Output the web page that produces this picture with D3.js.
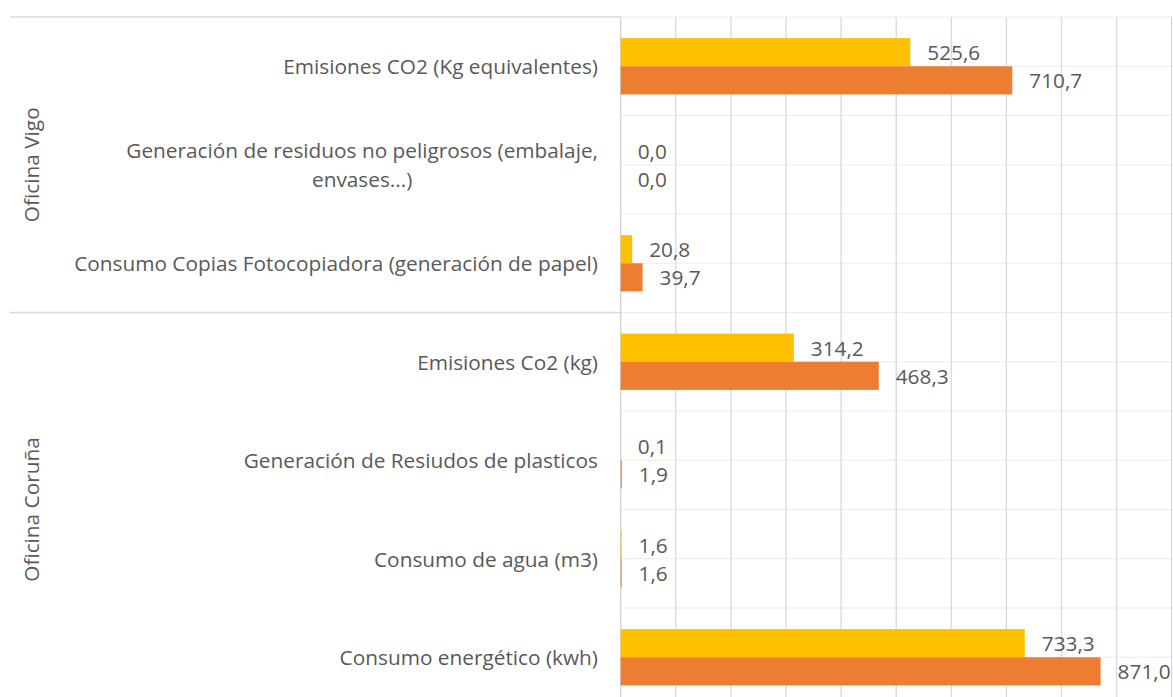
<!DOCTYPE html>
<html>
<head>
<meta charset="utf-8">
<script src="https://cdn.jsdelivr.net/npm/d3@7"></script>
<style>
  body { margin: 0; background: #fff; }
  text { font-family: "Open Sans", sans-serif; fill: #595959; }
</style>
</head>
<body>
<div id="chart"></div>
<script>
var groups = ["Oficina Vigo", "Oficina Coruña"];
var groupSizes = [3, 4];
var categories = [
  "Emisiones CO2 (Kg equivalentes)",
  "Generación de residuos no peligrosos (embalaje, envases...)",
  "Consumo Copias Fotocopiadora (generación de papel)",
  "Emisiones Co2 (kg)",
  "Generación de Resiudos de plasticos",
  "Consumo de agua (m3)",
  "Consumo energético (kwh)"
];
var categoryLines = [
  ["Emisiones CO2 (Kg equivalentes)"],
  ["Generación de residuos no peligrosos (embalaje,", "envases...)"],
  ["Consumo Copias Fotocopiadora (generación de papel)"],
  ["Emisiones Co2 (kg)"],
  ["Generación de Resiudos de plasticos"],
  ["Consumo de agua (m3)"],
  ["Consumo energético (kwh)"]
];
var series1 = [525.6, 0.0, 20.8, 314.2, 0.1, 1.6, 733.3];
var series2 = [710.7, 0.0, 39.7, 468.3, 1.9, 1.6, 871.0];
var xTicks = [0, 100, 200, 300, 400, 500, 600, 700, 800, 900, 1000];

var width = 1173, height = 697;
var plotLeft = 620.7, plotRight = 1171.7, plotTop = 17, band = 98.5;
var plotBottom = plotTop + band * categories.length;
var colors = ["#FFC000", "#ED7D31"];
var fontSize = 20.8;

var svg = d3.select("#chart").append("svg")
  .attr("width", width).attr("height", height);

var x = d3.scaleLinear().domain([0, 1000]).range([plotLeft, plotRight]);
var y = d3.scaleBand().domain(categories).range([plotTop, plotBottom]);
var ySub = d3.scaleBand().domain([0, 1]).range([0, y.bandwidth()]).paddingOuter(0.75);

var locale = d3.formatLocale({ decimal: ",", thousands: ".", grouping: [3], currency: ["", "€"] });
var fmt = locale.format(".1f");

// horizontal gridlines: every half category
var hLines = d3.range(categories.length * 2 + 1).map(function(i) { return plotTop + i * band / 2; });
svg.append("g").selectAll("line").data(hLines).enter().append("line")
  .attr("x1", plotLeft).attr("x2", plotRight)
  .attr("y1", function(d) { return d; }).attr("y2", function(d) { return d; })
  .attr("stroke", "#ebebeb").attr("stroke-width", 1.2);

// vertical gridlines
svg.append("g").selectAll("line").data(xTicks).enter().append("line")
  .attr("x1", function(d) { return x(d); }).attr("x2", function(d) { return x(d); })
  .attr("y1", plotTop).attr("y2", plotBottom)
  .attr("stroke", function(d) { return d === 0 ? "#d0d0d0" : "#d9d9d9"; })
  .attr("stroke-width", 1.3);

// group separators on the category axis
var bounds = [0];
groupSizes.forEach(function(n, i) { bounds.push(bounds[i] + n); });
svg.append("g").selectAll("line").data(bounds).enter().append("line")
  .attr("x1", 10).attr("x2", plotLeft)
  .attr("y1", function(d) { return plotTop + d * band; })
  .attr("y2", function(d) { return plotTop + d * band; })
  .attr("stroke", "#d9d9d9").attr("stroke-width", 1.5);

// group labels
svg.append("g").selectAll("text").data(groups).enter().append("text")
  .attr("transform", function(d, i) {
    var cy = plotTop + (bounds[i] + bounds[i + 1]) / 2 * band;
    return "translate(31," + cy + ") rotate(-90)";
  })
  .attr("text-anchor", "middle").attr("dominant-baseline", "central")
  .style("font-size", fontSize + "px")
  .text(function(d) { return d; });

// category labels
var catG = svg.append("g").selectAll("g").data(categories).enter().append("g");
catG.each(function(d, i) {
  var lines = categoryLines[i];
  var cy = y(d) + y.bandwidth() / 2;
  var g = d3.select(this);
  if (lines.length === 1) {
    g.append("text").attr("x", 598).attr("y", cy)
      .attr("text-anchor", "end").attr("dominant-baseline", "central")
      .style("font-size", fontSize + "px").text(lines[0]);
  } else {
    var first = g.append("text").attr("x", 598).attr("y", cy - 14.5)
      .attr("text-anchor", "end").attr("dominant-baseline", "central")
      .style("font-size", fontSize + "px").text(lines[0]);
    var w = first.node().getComputedTextLength();
    g.append("text").attr("x", 598 - w / 2).attr("y", cy + 14.5)
      .attr("text-anchor", "middle").attr("dominant-baseline", "central")
      .style("font-size", fontSize + "px").text(lines[1]);
  }
});

// bars
var allSeries = [series1, series2];
allSeries.forEach(function(values, s) {
  svg.append("g").selectAll("rect").data(values).enter().append("rect")
    .attr("x", x(0))
    .attr("y", function(d, i) { return y(categories[i]) + ySub(s); })
    .attr("width", function(d) { return x(d) - x(0); })
    .attr("height", ySub.bandwidth())
    .attr("fill", colors[s]);

  svg.append("g").selectAll("text").data(values).enter().append("text")
    .attr("x", function(d) { return x(d) + 17; })
    .attr("y", function(d, i) { return y(categories[i]) + ySub(s) + ySub.bandwidth() / 2; })
    .attr("dominant-baseline", "central")
    .style("font-size", fontSize + "px")
    .text(function(d) { return fmt(d); });
});
</script>
</body>
</html>
